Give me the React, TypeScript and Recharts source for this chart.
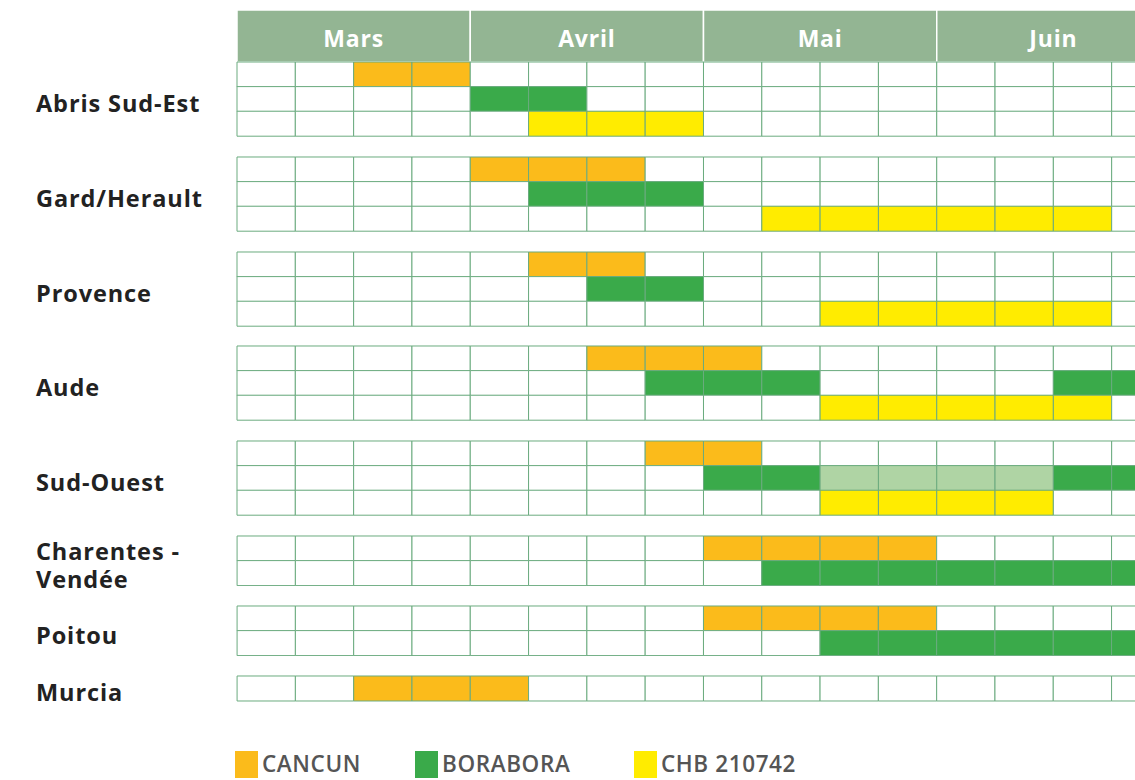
import { BarChart, Bar, XAxis, YAxis, Cell } from "recharts";

const months = ["Mars", "Avril", "Mai", "Juin"];
const WEEKS_PER_MONTH = 4;

const varieties = ["CANCUN", "BORABORA", "CHB 210742"];
const varietyColors: Record<string, string> = {
  CANCUN: "#fbbb1b",
  BORABORA: "#3aaa4a",
  "CHB 210742": "#ffec00",
};
const LIGHT_GREEN = "#afd4a4";

// week ranges [start, end) counted from the first week of March
const abrisSudEst = [
  { variety: "CANCUN", weeks: [[2, 4]] },
  { variety: "BORABORA", weeks: [[4, 6]] },
  { variety: "CHB 210742", weeks: [[5, 8]] },
];
const gardHerault = [
  { variety: "CANCUN", weeks: [[4, 7]] },
  { variety: "BORABORA", weeks: [[5, 8]] },
  { variety: "CHB 210742", weeks: [[9, 15]] },
];
const provence = [
  { variety: "CANCUN", weeks: [[5, 7]] },
  { variety: "BORABORA", weeks: [[6, 8]] },
  { variety: "CHB 210742", weeks: [[10, 15]] },
];
const aude = [
  { variety: "CANCUN", weeks: [[6, 9]] },
  { variety: "BORABORA", weeks: [[7, 10], [14, 16]] },
  { variety: "CHB 210742", weeks: [[10, 15]] },
];
const sudOuest = [
  { variety: "CANCUN", weeks: [[7, 9]] },
  { variety: "BORABORA", weeks: [[8, 10], [14, 16]], light: [[10, 14]] },
  { variety: "CHB 210742", weeks: [[10, 14]] },
];
const charentesVendee = [
  { variety: "CANCUN", weeks: [[8, 12]] },
  { variety: "BORABORA", weeks: [[9, 16]] },
];
const poitou = [
  { variety: "CANCUN", weeks: [[8, 12]] },
  { variety: "BORABORA", weeks: [[10, 16]] },
];
const murcia = [{ variety: "CANCUN", weeks: [[2, 5]] }];

const regions = [
  { name: "Abris Sud-Est", rows: abrisSudEst },
  { name: "Gard/Herault", rows: gardHerault },
  { name: "Provence", rows: provence },
  { name: "Aude", rows: aude },
  { name: "Sud-Ouest", rows: sudOuest },
  { name: "Charentes - Vendée", rows: charentesVendee },
  { name: "Poitou", rows: poitou },
  { name: "Murcia", rows: murcia },
];

const TOTAL_WEEKS = months.length * WEEKS_PER_MONTH;
const weekKeys = Array.from({ length: TOTAL_WEEKS }, (_, i) => `w${i}`);

const ROW_H = 24.6;
const GROUP_GAP = 21;
const GRID_TOP = 62;
const HEADER_TOP = 10;
const CHART_W = 1175;
const MARGIN = { top: 1, right: 5, bottom: 1, left: 237 };
const GRID_STROKE = "#6aab7e";
const FONT = "'Open Sans', sans-serif";
const legendLeft = [235, 415, 634];

type Row = { variety: string; weeks: number[][]; light?: number[][] };

function buildRows(rows: Row[]) {
  return rows.map((r, idx) => {
    const colors = weekKeys.map((_, w) => {
      const inRange = (ranges?: number[][]) => (ranges || []).some(([a, b]) => w >= a && w < b);
      if (inRange(r.weeks)) return varietyColors[r.variety];
      if (inRange(r.light)) return LIGHT_GREEN;
      return "#ffffff";
    });
    const entry: Record<string, any> = { id: `${r.variety}-${idx}`, colors };
    weekKeys.forEach((k) => (entry[k] = 1));
    return entry;
  });
}

function RegionChart({ rows }: { rows: Row[] }) {
  const data = buildRows(rows);
  return (
    <BarChart width={CHART_W} height={rows.length * ROW_H + 2} data={data} layout="vertical" margin={MARGIN} barCategoryGap={0}>
      <XAxis type="number" domain={[0, TOTAL_WEEKS]} hide />
      <YAxis type="category" dataKey="id" hide />
      {weekKeys.map((k, w) => (
        <Bar key={k} dataKey={k} stackId="weeks" isAnimationActive={false} stroke={GRID_STROKE} strokeWidth={1}>
          {data.map((d) => (
            <Cell key={d.id} fill={d.colors[w]} />
          ))}
        </Bar>
      ))}
    </BarChart>
  );
}

const headerData = [
  months.reduce((acc: Record<string, any>, m) => ({ ...acc, [m]: WEEKS_PER_MONTH }), { id: "header" }),
];

function Header() {
  return (
    <BarChart width={CHART_W} height={GRID_TOP - HEADER_TOP + 1} data={headerData} layout="vertical" margin={{ ...MARGIN, bottom: 0 }} barCategoryGap={0}>
      <XAxis type="number" domain={[0, TOTAL_WEEKS]} hide />
      <YAxis type="category" dataKey="id" hide />
      {months.map((m) => (
        <Bar
          key={m}
          dataKey={m}
          stackId="months"
          fill="#93b593"
          stroke="#ffffff"
          strokeWidth={1.5}
          isAnimationActive={false}
          label={(p: any) => (
            <text
              x={p.x + p.width / 2}
              y={p.y + p.height / 2 + 2}
              textAnchor="middle"
              dominantBaseline="central"
              fill="#ffffff"
              fontFamily={FONT}
              fontWeight={700}
              fontSize={23}
              letterSpacing={0.8}
            >
              {m}
            </text>
          )}
        />
      ))}
    </BarChart>
  );
}

export default function App() {
  let top = GRID_TOP;
  const placed = regions.map((r) => {
    const t = Math.round(top);
    top += r.rows.length * ROW_H + GROUP_GAP;
    return { ...r, top: t };
  });

  return (
    <div style={{ position: "absolute", left: 0, top: 0, width: 1135, height: 780, overflow: "hidden", background: "#fff", fontFamily: FONT }}>
      <div style={{ position: "absolute", left: 0, top: HEADER_TOP - 1 }}>
        <Header />
      </div>
      {placed.map((r) => (
        <div key={r.name} style={{ position: "absolute", left: 0, top: r.top - 1 }}>
          <div
            style={{
              position: "absolute",
              left: 36,
              top: 5,
              width: 195,
              height: r.rows.length * ROW_H,
              display: "flex",
              alignItems: "center",
              fontWeight: 700,
              fontSize: 23.5,
              letterSpacing: 0.9,
              lineHeight: "28px",
              color: "#222",
            }}
          >
            {r.name}
          </div>
          <RegionChart rows={r.rows} />
        </div>
      ))}
      {varieties.map((v, i) => (
        <div key={v}>
          <div style={{ position: "absolute", left: legendLeft[i], top: 751, width: 23, height: 27, background: varietyColors[v] }} />
          <span
            style={{
              position: "absolute",
              left: legendLeft[i] + 27,
              top: 753,
              fontSize: 22.5,
              fontWeight: 600,
              color: "#555",
              lineHeight: "22px",
              letterSpacing: 0.6,
              whiteSpace: "nowrap",
            }}
          >
            {v}
          </span>
        </div>
      ))}
    </div>
  );
}
